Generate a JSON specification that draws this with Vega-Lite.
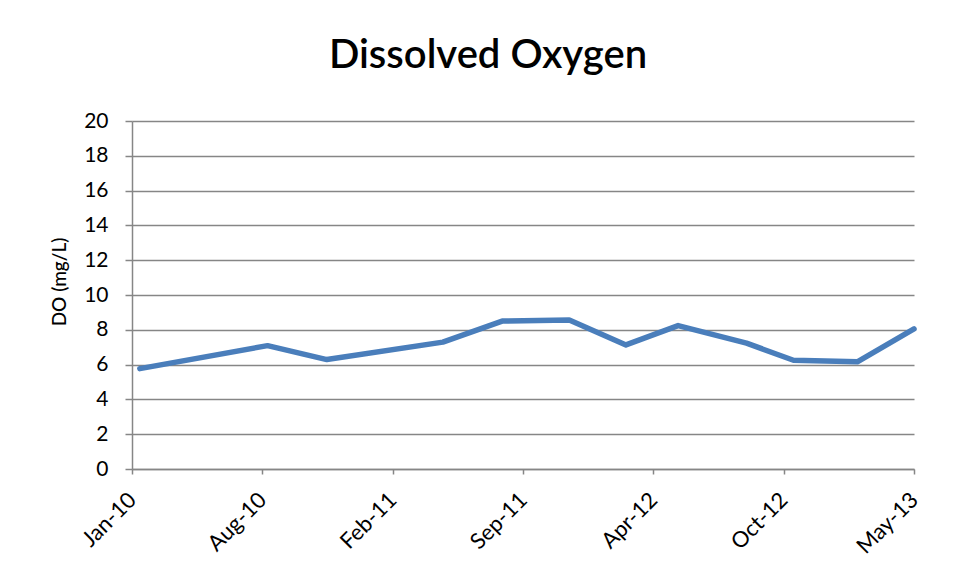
{
  "$schema": "https://vega.github.io/schema/vega-lite/v6.json",
  "width": 782,
  "height": 348,
  "autosize": {"type": "none"},
  "padding": {"left": 132, "top": 121, "right": 47, "bottom": 109},
  "background": "white",
  "title": {"text": "Dissolved Oxygen", "font": "Lato", "fontSize": 40, "fontWeight": 600, "color": "#000000", "anchor": "middle", "dx": -35, "offset": 34},
  "config": {"view": {"stroke": null}, "font": "Lato"},
  "data": {"values": [
    {"date": "2010-02-04", "do": 5.77},
    {"date": "2010-08-19", "do": 7.09},
    {"date": "2010-11-18", "do": 6.29},
    {"date": "2011-05-15", "do": 7.29},
    {"date": "2011-08-14", "do": 8.50},
    {"date": "2011-11-25", "do": 8.56},
    {"date": "2012-02-20", "do": 7.13},
    {"date": "2012-05-10", "do": 8.24},
    {"date": "2012-08-23", "do": 7.23},
    {"date": "2012-11-03", "do": 6.25},
    {"date": "2013-02-09", "do": 6.16},
    {"date": "2013-05-07", "do": 8.05}
  ]},
  "mark": {"type": "line", "color": "#4A7EBB", "strokeWidth": 5.5, "strokeCap": "round", "strokeJoin": "round", "clip": false},
  "encoding": {
    "x": {
      "field": "date", "type": "temporal",
      "scale": {"type": "utc", "domain": [{"year": 2010, "month": 1, "date": 23, "utc": true}, {"year": 2013, "month": 5, "date": 7, "utc": true}]},
      "axis": {
        "values": [
          {"year": 2010, "month": 1, "date": 23, "utc": true},
          {"year": 2010, "month": 8, "date": 11, "utc": true},
          {"year": 2011, "month": 2, "date": 27, "utc": true},
          {"year": 2011, "month": 9, "date": 15, "utc": true},
          {"year": 2012, "month": 4, "date": 2, "utc": true},
          {"year": 2012, "month": 10, "date": 19, "utc": true},
          {"year": 2013, "month": 5, "date": 7, "utc": true}
        ],
        "labelExpr": "utcFormat(datum.value, '%b-%y')",
        "labelAngle": -45, "labelAlign": "right", "labelBaseline": "middle",
        "labelFont": "Lato", "labelFontSize": 22, "labelColor": "#000000", "labelPadding": 22,
        "labelOverlap": false, "labelBound": false, "labelFlush": false,
        "tickSize": 5, "tickColor": "#868686", "tickWidth": 1.5, "domainColor": "#868686", "domainWidth": 1.5,
        "grid": false, "title": null
      }
    },
    "y": {
      "field": "do", "type": "quantitative",
      "scale": {"domain": [0, 20], "nice": false, "zero": true},
      "axis": {
        "values": [0, 2, 4, 6, 8, 10, 12, 14, 16, 18, 20],
        "title": "DO (mg/L)", "titleFont": "Lato", "titleFontSize": 19, "titleFontWeight": 500, "titleColor": "#000000",
        "titlePadding": 14, "titleY": 160.5,
        "labelFont": "Lato", "labelFontSize": 21, "labelColor": "#000000", "labelPadding": 17,
        "tickSize": 7, "tickColor": "#868686", "tickWidth": 1.5, "domainColor": "#868686", "domainWidth": 1.5,
        "gridColor": "#868686", "gridWidth": 1.5, "gridOpacity": 1
      }
    }
  }
}
